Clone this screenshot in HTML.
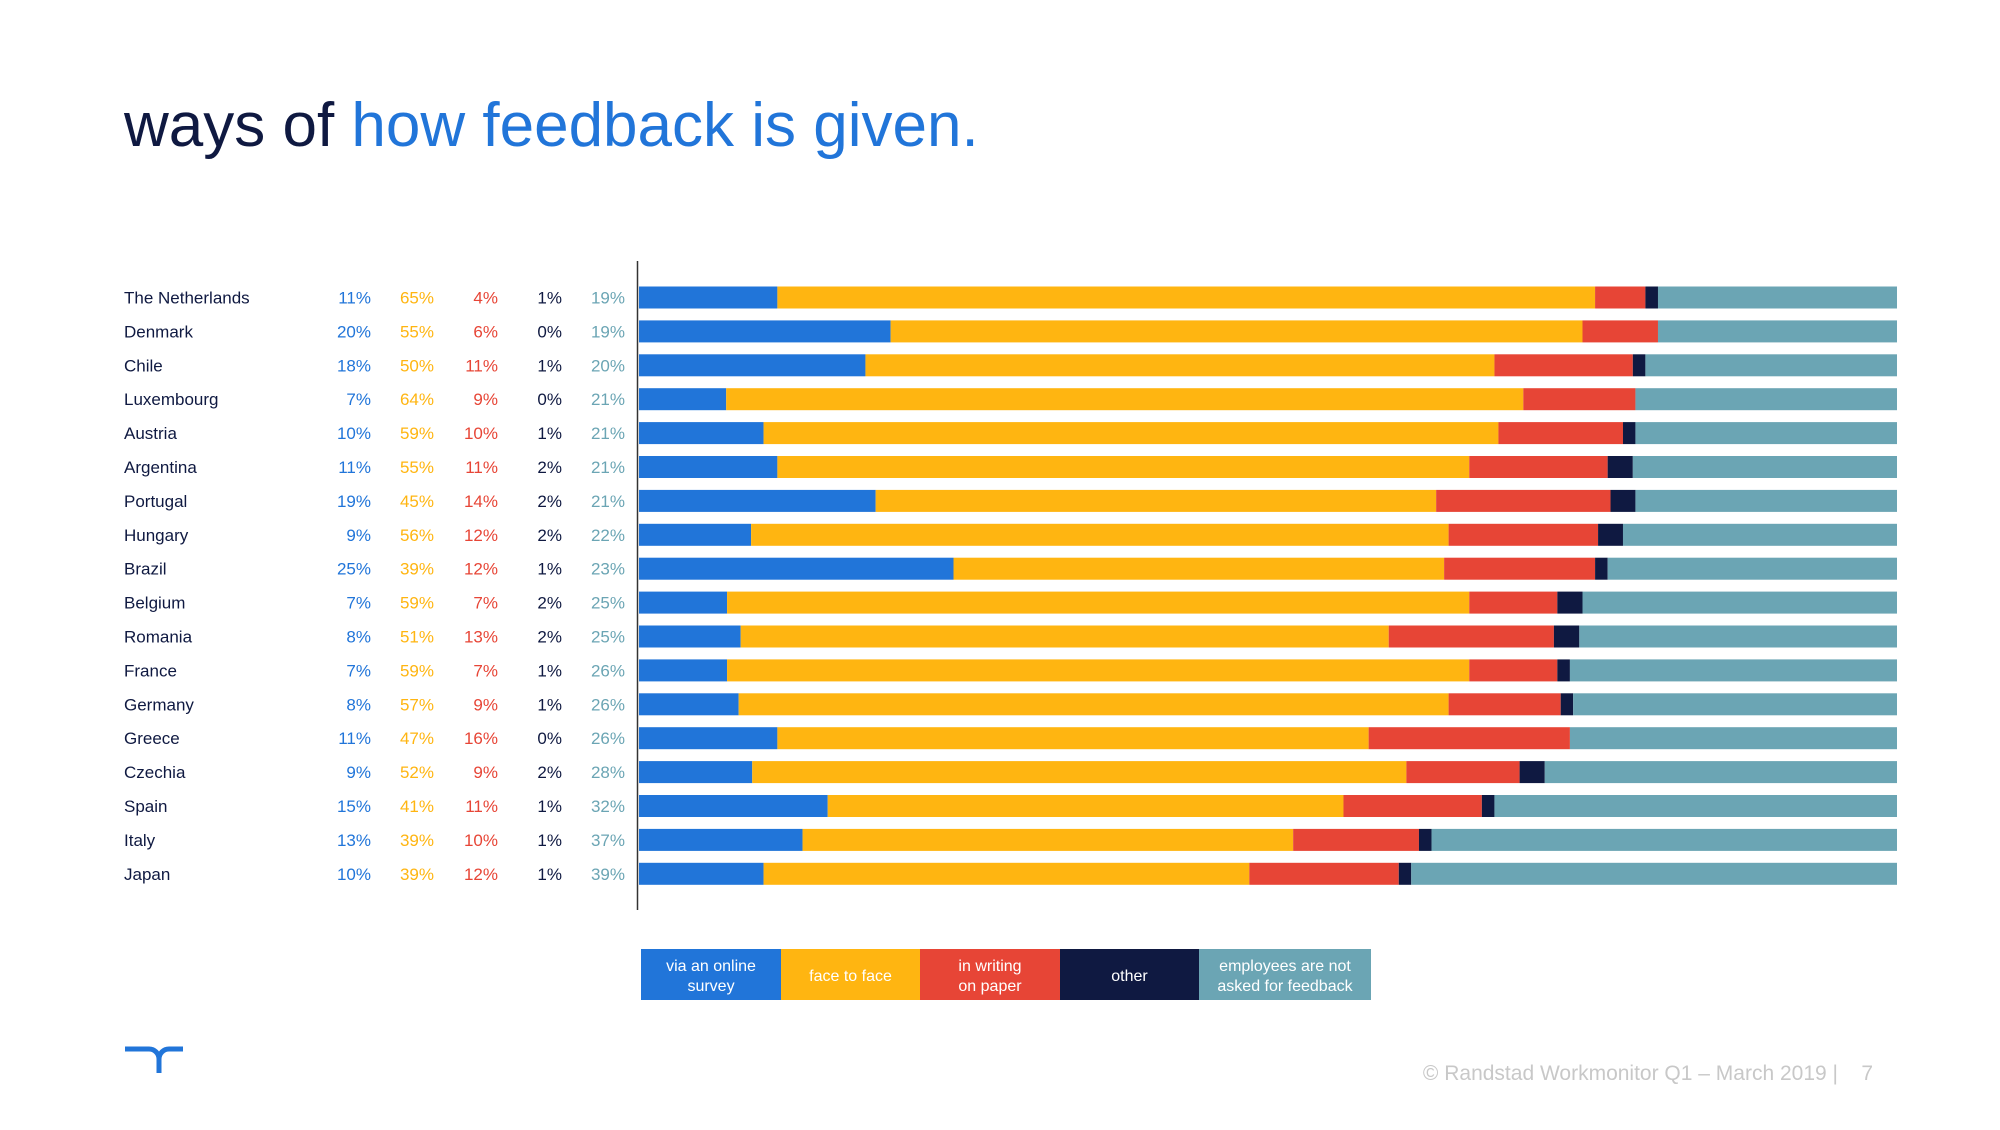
<!DOCTYPE html>
<html><head><meta charset="utf-8">
<style>
html,body{margin:0;padding:0;background:#fff;}
body{width:2000px;height:1125px;overflow:hidden;position:relative;font-family:"Liberation Sans",sans-serif;}
</style></head>
<body>
<svg id="chart" width="2000" height="1125" viewBox="0 0 2000 1125" xmlns="http://www.w3.org/2000/svg" font-family="Liberation Sans, sans-serif">
  <text x="124" y="146" font-size="62" fill="#0f1941">ways of <tspan fill="#2175d9">how feedback is given.</tspan></text>
  <line x1="637.5" y1="261" x2="637.5" y2="910" stroke="#333" stroke-width="1.5"/>
  <g id="rows"></g>
  <g id="legend"></g>
  <g fill="none" stroke="#2175d9" stroke-width="5">
    <path d="M125 1049 H149 A10 10 0 0 1 159 1059 V1073"/>
    <path d="M183 1049 H169 A10 10 0 0 0 159 1059"/>
  </g>
  <text x="1873" y="1080" font-size="21" fill="#c8c8c8" text-anchor="end" xml:space="preserve" style="white-space:pre">© Randstad Workmonitor Q1 – March 2019 |    7</text>
</svg>
<script>
const countries = ["The Netherlands","Denmark","Chile","Luxembourg","Austria","Argentina","Portugal","Hungary","Brazil","Belgium","Romania","France","Germany","Greece","Czechia","Spain","Italy","Japan"];
const online = [11,20,18,7,10,11,19,9,25,7,8,7,8,11,9,15,13,10];
const face = [65,55,50,64,59,55,45,56,39,59,51,59,57,47,52,41,39,39];
const paper = [4,6,11,9,10,11,14,12,12,7,13,7,9,16,9,11,10,12];
const other = [1,0,1,0,1,2,2,2,1,2,2,1,1,0,2,1,1,1];
const notAsked = [19,19,20,21,21,21,21,22,23,25,25,26,26,26,28,32,37,39];
const seriesNames = ["via an online survey","face to face","in writing on paper","other","employees are not asked for feedback"];
const colors = ["#2175d9","#ffb511","#e74536","#0f1941","#6ba5b4"];
const labelColors = ["#2175d9","#ffb511","#e74536","#0f1941","#6ba5b4"];

const NS = "http://www.w3.org/2000/svg";
const x0 = 639, x1 = 1897, y0 = 297.5, step = 33.9, barH = 22;
function xScale(v){ return v / 100 * (x1 - x0); }
function yScale(i){ return y0 + i * step; }
const rowsG = document.getElementById('rows');
const series = [online, face, paper, other, notAsked];
const colX = [371, 434, 498, 562, 625];
countries.forEach((c, i) => {
  const cy = yScale(i);
  const t = document.createElementNS(NS, 'text');
  
  
  t.setAttribute('x', 124); t.setAttribute('y', cy + 6);
  t.setAttribute('font-size', '17'); t.setAttribute('fill', '#0f1941');
  t.textContent = c; rowsG.appendChild(t);
  const total = series.reduce((s, a) => s + a[i], 0);
  let acc = 0;
  series.forEach((arr, k) => {
    const v = document.createElementNS(NS, 'text');
    
    
    v.setAttribute('x', colX[k]); v.setAttribute('y', cy + 6);
    v.setAttribute('font-size', '17'); v.setAttribute('text-anchor', 'end');
    v.setAttribute('fill', labelColors[k]);
    v.textContent = arr[i] + '%'; rowsG.appendChild(v);
    const w = xScale(arr[i] / total * 100);
    const r = document.createElementNS(NS, 'rect');
    
    
    r.setAttribute('x', x0 + xScale(acc / total * 100)); r.setAttribute('y', cy - barH / 2);
    r.setAttribute('width', Math.max(w, 0)); r.setAttribute('height', barH);
    r.setAttribute('fill', colors[k]);
    rowsG.appendChild(r);
    acc += arr[i];
  });
});
const legendG = document.getElementById('legend');
const lx = [641, 781, 920, 1060, 1199, 1371];
const legendLines = [["via an online","survey"],["face to face"],["in writing","on paper"],["other"],["employees are not","asked for feedback"]];
const legendText = ["#fff","#fff","#fff","#fff","#fff"];
legendLines.forEach((lines, k) => {
  const r = document.createElementNS(NS, 'rect');
  
  
  r.setAttribute('x', lx[k]); r.setAttribute('y', 949);
  r.setAttribute('width', lx[k + 1] - lx[k]); r.setAttribute('height', 51);
  r.setAttribute('fill', colors[k]);
  legendG.appendChild(r);
  lines.forEach((ln, j) => {
    const t = document.createElementNS(NS, 'text');
    
    
    t.setAttribute('x', (lx[k] + lx[k + 1]) / 2);
    t.setAttribute('y', lines.length === 1 ? 981 : 971 + j * 20);
    t.setAttribute('font-size', '16'); t.setAttribute('text-anchor', 'middle');
    t.setAttribute('fill', legendText[k]);
    t.textContent = ln; legendG.appendChild(t);
  });
});
</script>
</body></html>
